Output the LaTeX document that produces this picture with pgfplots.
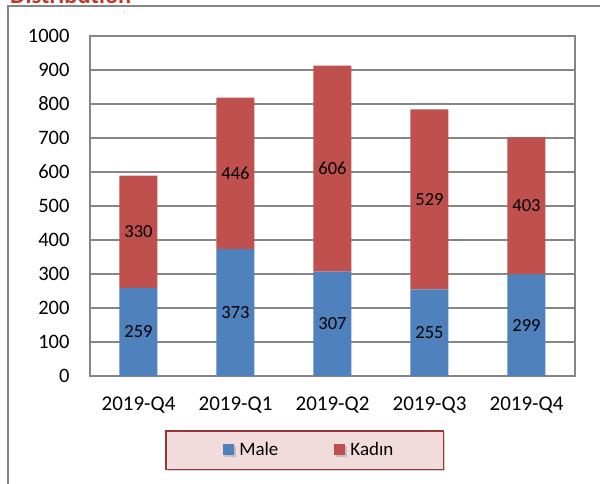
\documentclass[border=0pt]{standalone}
\usepackage{pgfplots}
\pgfplotsset{compat=1.18}
\usepackage{fontspec}
\setmainfont{Carlito}
\usetikzlibrary{shadows}
\definecolor{male}{HTML}{4F81BD}
\definecolor{kadin}{HTML}{C0504D}
\definecolor{gridc}{HTML}{868686}
\definecolor{legfill}{HTML}{F2DCDB}
\definecolor{legdraw}{HTML}{953735}
\definecolor{titlec}{HTML}{C0392B}

\pgfplotstableread{
x male kadin
0 259 330
1 373 446
2 307 606
3 255 529
4 299 403
}\datatable

\pgfplotstableread{
x y lab
0 129.5 259
1 186.5 373
2 153.5 307
3 127.5 255
4 149.5 299
0 424 330
1 596 446
2 610 606
3 519.5 529
4 500.5 403
}\labtable

\begin{document}
\begin{tikzpicture}
\path[use as bounding box] (0pt,0pt) rectangle (600pt,-484pt);
\clip (0pt,0pt) rectangle (600pt,-484pt);
\node[anchor=base west, font=\fontsize{24.5}{29}\selectfont\bfseries, text=titlec, inner sep=0pt] at (10pt,-3.5pt) {Distribution};
\draw[gridc, line width=1.5pt] (8pt,-640pt) -- (8pt,-6pt) -- (660pt,-6pt);
\begin{axis}[
  at={(90pt,-376pt)}, anchor=south west,
  scale only axis, width=485pt, height=340pt,
  ybar stacked, bar width=38pt,
  xmin=-0.5, xmax=4.5, ymin=0, ymax=1000, ytick={0,100,...,1000},
  xtick={0,...,4}, xticklabels={2019-Q4,2019-Q1,2019-Q2,2019-Q3,2019-Q4},
  major tick length=0pt,
  ymajorgrids, grid style={gridc, line width=1.4pt},
  axis line style={gridc, line width=1.4pt},
  tick label style={text=black},
  yticklabel style={font=\fontsize{20.5}{24}\selectfont, xshift=-17pt},
  xticklabel style={font=\fontsize{21}{25}\selectfont, yshift=-17pt},
  /pgf/number format/assume math mode=true,
  /pgf/number format/1000 sep={},
  legend columns=2,
  legend style={at={(0.443,-0.218)}, anchor=center, fill=legfill, draw=legdraw,
    line width=1.8pt, drop shadow={opacity=0.35, shadow xshift=2pt, shadow yshift=-2pt},
    font=\fontsize{19}{23}\selectfont, inner xsep=48pt, inner ysep=10pt,
    /tikz/every even column/.append style={column sep=45pt}},
  legend image code/.code={\fill[#1,draw=none] (0pt,-5pt) rectangle (11pt,6pt);
    \path (-9pt,0pt) (14pt,0pt);},
]
\addplot[fill=male, draw=none] table[x=x, y=male] {\datatable};
\addlegendentry{Male}
\addplot[fill=kadin, draw=none] table[x=x, y=kadin] {\datatable};
\addlegendentry{Kadın}
\end{axis}
\begin{axis}[
  at={(90pt,-376pt)}, anchor=south west,
  scale only axis, width=485pt, height=340pt,
  xmin=-0.5, xmax=4.5, ymin=0, ymax=1000,
  hide axis,
]
\addplot[draw=none, mark=*, mark size=0pt, mark options={draw=none, fill=none},
  nodes near coords, point meta=explicit symbolic,
  every node near coord/.append style={anchor=center, font=\fontsize{18.5}{22}\selectfont, text=black}]
  table[x=x, y=y, meta=lab] {\labtable};
\end{axis}
\end{tikzpicture}
\end{document}
